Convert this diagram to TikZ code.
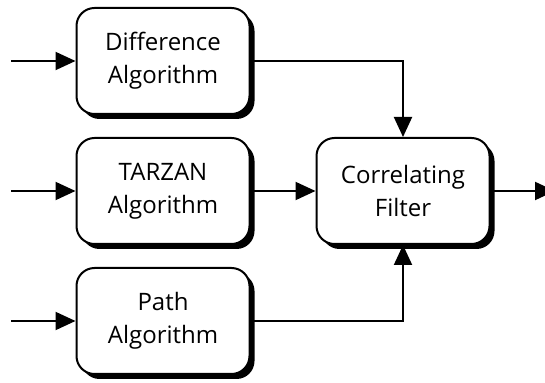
\documentclass[tikz,border=0pt]{standalone}
\usepackage{fontspec}
\setmainfont{Open Sans}
\usetikzlibrary{arrows.meta,positioning,shadows}

\begin{document}
\begin{tikzpicture}[x=0.5pt,y=-0.5pt,
  font=\fontsize{12}{16.5}\selectfont,
  >={Triangle[length=10pt,width=9pt]},
  block/.style={draw,line width=1pt,rounded corners=9pt,fill=white,
    minimum width=86.5pt,minimum height=53pt,align=center,
    drop shadow={shadow xshift=2.5pt,shadow yshift=-2.5pt,opacity=1,fill=black}},
  wire/.style={line width=1pt,->}]
\useasboundingbox (0,0) rectangle (545,383);
% the three detectors
\node[block] (diff)   at (163,61)  {Difference\\Algorithm};
\node[block] (tarzan) at (163,191) {TARZAN\\Algorithm};
\node[block] (path)   at (163,321) {Path\\Algorithm};
% filter that combines them
\node[block] (filter) at (403,191) {Correlating\\Filter};
% inputs and output
\coordinate (in1) at (11,61);
\coordinate (in2) at (11,191);
\coordinate (in3) at (11,321);
\coordinate (out) at (555,191);
\draw[wire] (in1) -- (diff);
\draw[wire] (in2) -- (tarzan);
\draw[wire] (in3) -- (path);
\draw[wire] (filter) -- (out);
% detectors into the filter
\draw[wire] (diff) -| (filter);
\draw[wire] (tarzan) -- (filter);
\draw[wire] (path) -| (filter);
\end{tikzpicture}
\end{document}
